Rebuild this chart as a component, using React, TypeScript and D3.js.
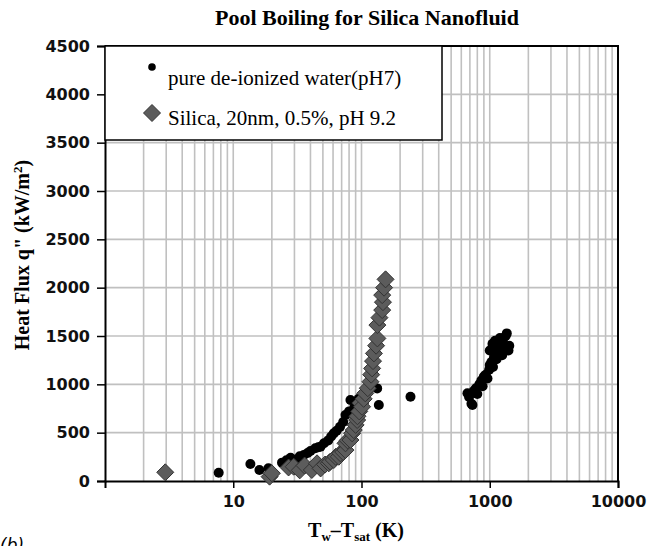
import React, { useEffect, useRef } from "react";
import * as d3 from "d3";

// pure de-ionized water (pH7)
const waterT = [7.7, 13.6, 16, 18.8, 24, 26, 28, 30.5, 33, 35.5, 38, 40, 43.6, 46, 47.9, 51, 55, 58, 60.8, 64, 68, 72, 75, 80, 82, 88, 95, 132.5, 136.5, 241,
  670, 690, 720, 733, 750, 780, 800, 830, 860, 880, 900, 930, 960, 990, 1000, 1030, 1060, 1080, 1100, 1130, 1160, 1200, 1230, 1270, 1300, 1330, 1358, 1000, 1050, 1100, 1200, 1250, 1400, 1420];
const waterQ = [86, 176, 114, 131, 190, 215, 240, 217, 255, 269, 290, 310, 338, 350, 355, 390, 420, 460, 493, 520, 560, 610, 682, 720, 838, 760, 850, 958, 786, 872,
  907, 870, 800, 786, 930, 960, 900, 1000, 1040, 980, 1080, 1100, 1060, 1150, 1200, 1230, 1180, 1280, 1320, 1260, 1380, 1350, 1420, 1470, 1400, 1500, 1527, 1350, 1420, 1450, 1480, 1300, 1350, 1400];

// Silica, 20nm, 0.5%, pH 9.2
const silicaT = [2.95, 19.2, 20, 27, 29.6, 33, 36, 41, 45, 48, 52, 55.6, 57, 60.8, 63, 66.5, 68.5, 72, 75, 75, 78, 82, 84.5, 87, 90, 92.5, 93, 96, 98, 101, 104, 107, 112, 117.5, 119, 121, 123, 125, 130, 133, 133, 138, 145, 147, 145, 150, 154];
const silicaQ = [90, 45, 80, 140, 148, 110, 160, 114, 183, 130, 170, 183, 200, 217, 250, 251, 286, 300, 320, 390, 420, 424, 493, 527, 580, 631, 670, 720, 807, 768, 850, 907, 960, 1027, 1100, 1165, 1240, 1320, 1400, 1475, 1613, 1690, 1768, 1850, 1923, 2000, 2086];

const yTicks = [0, 500, 1000, 1500, 2000, 2500, 3000, 3500, 4000, 4500];
const xTicks = [10, 100, 1000, 10000];
const seriesNames = ["pure de-ionized water(pH7)", "Silica, 20nm, 0.5%, pH 9.2"];

const W = 649, H = 546;
const L = 105, R = 618, T = 46, B = 481;

export default function App() {
  const ref = useRef<SVGSVGElement>(null);
  useEffect(() => {
    const svg = d3.select(ref.current);
    svg.selectAll("*").remove();
    const x = d3.scaleLog().domain([1, 10000]).range([L, R]);
    const y = d3.scaleLinear().domain([0, 4500]).range([B, T]);

    // grid
    const minor: number[] = [];
    for (let d = 1; d < 10000; d *= 10) for (let k = 2; k <= 10; k++) minor.push(d * k);
    svg.append("g").selectAll("line").data(minor).join("line")
      .attr("x1", d => x(d)).attr("x2", d => x(d)).attr("y1", T).attr("y2", B)
      .attr("stroke", "#c0c0c0").attr("stroke-width", 1.6);
    svg.append("g").selectAll("line").data(yTicks.slice(1)).join("line")
      .attr("x1", L).attr("x2", R).attr("y1", d => y(d)).attr("y2", d => y(d))
      .attr("stroke", "#c0c0c0").attr("stroke-width", 1.6);

    // frame
    svg.append("path").attr("d", `M${L},${T}H${R}V${B}`).attr("fill", "none").attr("stroke", "#000").attr("stroke-width", 2);

    // axes
    const yAxis = d3.axisLeft(y).tickValues(yTicks).tickSize(8).tickPadding(7).tickFormat(d3.format("d"));
    const gy = svg.append("g").attr("transform", `translate(${L},0)`).call(yAxis);
    gy.select(".domain").attr("stroke-width", 2);
    gy.selectAll(".tick line").attr("stroke-width", 1.5);
    gy.selectAll("text").attr("font-family", "DejaVu Sans").attr("font-size", 16).attr("font-weight", "bold").attr("fill", "#111");

    const xAxis = d3.axisBottom(x).tickValues(xTicks).tickSize(7).tickPadding(8).tickFormat(d3.format("d"));
    const gx = svg.append("g").attr("transform", `translate(0,${B})`).call(xAxis);
    gx.select(".domain").attr("stroke-width", 2);
    gx.selectAll(".tick line").attr("stroke-width", 1.5);
    gx.selectAll("text").attr("font-family", "DejaVu Sans").attr("font-size", 16).attr("font-weight", "bold").attr("fill", "#111");

    const dia = (cx: number, cy: number, s: number) => `M${cx},${cy - s}L${cx + s},${cy}L${cx},${cy + s}L${cx - s},${cy}Z`;
    const silica = silicaT.map((t, i) => [t, silicaQ[i]]);
    const water = waterT.map((t, i) => [t, waterQ[i]]);

    svg.append("g").selectAll("circle").data(water).join("circle")
      .attr("cx", d => x(d[0])).attr("cy", d => y(d[1])).attr("r", 5).attr("fill", "#000");
    svg.append("g").selectAll("path").data(silica).join("path")
      .attr("d", d => dia(x(d[0]), y(d[1]), 8.5)).attr("fill", "#5c5c5c").attr("stroke", "#333").attr("stroke-width", 1);

    // legend
    const lg = svg.append("g");
    lg.append("rect").attr("x", L).attr("y", T).attr("width", 337).attr("height", 94)
      .attr("fill", "#fff").attr("stroke", "#000").attr("stroke-width", 1.5);
    lg.append("circle").attr("cx", 152).attr("cy", 67).attr("r", 3.8).attr("fill", "#000");
    lg.append("path").attr("d", dia(152, 113, 8.5)).attr("fill", "#5c5c5c").attr("stroke", "#333");
    lg.selectAll("text").data(seriesNames).join("text")
      .attr("x", 168).attr("y", (d, i) => 85 + i * 40)
      .attr("font-family", "Liberation Serif").attr("font-size", 21).attr("fill", "#000")
      .text(d => d);

    // titles
    svg.append("text").attr("x", 367).attr("y", 25).attr("text-anchor", "middle")
      .attr("font-family", "Liberation Serif").attr("font-weight", "bold").attr("font-size", 22)
      .text("Pool Boiling for Silica  Nanofluid");

    const yl = svg.append("text").attr("transform", `translate(29,255) rotate(-90)`).attr("text-anchor", "middle")
      .attr("font-family", "Liberation Serif").attr("font-weight", "bold").attr("font-size", 20);
    yl.append("tspan").text("Heat Flux q\" (kW/m");
    yl.append("tspan").attr("dy", -7).attr("font-size", 13).text("2");
    yl.append("tspan").attr("dy", 7).text(")");

    const xl = svg.append("text").attr("x", 356).attr("y", 537).attr("text-anchor", "middle")
      .attr("font-family", "Liberation Serif").attr("font-weight", "bold").attr("font-size", 20);
    xl.append("tspan").text("T");
    xl.append("tspan").attr("dy", 4).attr("font-size", 13).text("w");
    xl.append("tspan").attr("dy", -4).text("–T");
    xl.append("tspan").attr("dy", 4).attr("font-size", 13).text("sat");
    xl.append("tspan").attr("dy", -4).text("  (K)");

    svg.append("text").attr("x", 0).attr("y", 551).attr("font-family", "DejaVu Sans").attr("font-style", "italic")
      .attr("font-size", 17).text("(b)");
  }, []);
  return (
    <svg ref={ref} width={W} height={H} style={{ position: "absolute", left: 0, top: 0, background: "#fff" }} />
  );
}
